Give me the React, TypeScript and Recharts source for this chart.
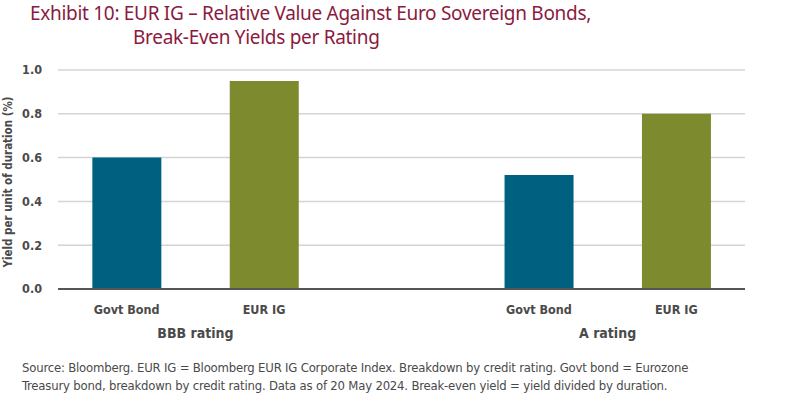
import React from "react";
import { Bar, BarChart, CartesianGrid, Cell, XAxis, YAxis } from "recharts";

const categories = ["Govt Bond", "EUR IG", "", "Govt Bond", "EUR IG"];
const values: (number | null)[] = [0.6, 0.95, null, 0.52, 0.8];
const groups = ["BBB rating", "", "", "A rating", ""];
const yTicks = [0, 0.2, 0.4, 0.6, 0.8, 1.0];

const BLUE = "#00607f";
const OLIVE = "#7e8a2e";
const barColors = [BLUE, OLIVE, BLUE, BLUE, OLIVE];

const data = categories.map((name, i) => ({
  key: `c${i}`,
  name,
  value: values[i],
  group: groups[i],
}));

const condensed = "'Liberation Sans Narrow', 'DejaVu Sans Condensed', Roboto, sans-serif";

function CategoryTick(props: any) {
  const { x, y, payload, index, width } = props;
  const item = data[index];
  const slot = (width || 687) / categories.length;
  return (
    <g>
      <text
        x={x}
        y={y + 17}
        textAnchor="middle"
        fontFamily={condensed}
        fontWeight="bold"
        fontSize={12.5}
        fill="#4a4a4a"
      >
        {item ? item.name : payload.value}
      </text>
      {item && item.group ? (
        <text
          x={x + slot / 2}
          y={y + 41}
          textAnchor="middle"
          fontFamily={condensed}
          fontWeight="bold"
          fontSize={14}
          fill="#4a4a4a"
        >
          {item.group}
        </text>
      ) : null}
    </g>
  );
}

export default function App() {
  return (
    <div
      style={{
        position: "absolute",
        left: 0,
        top: 0,
        width: 800,
        height: 398,
        background: "#fff",
        overflow: "hidden",
      }}
    >
      <div
        style={{
          position: "absolute",
          left: 30,
          top: 1,
          color: "#8a1a3e",
          fontFamily: "'Noto Sans', sans-serif",
          fontSize: 19,
          lineHeight: "24px",
          letterSpacing: -0.3,
        }}
      >
        <div>Exhibit 10: EUR IG – Relative Value Against Euro Sovereign Bonds,</div>
        <div style={{ paddingLeft: 103 }}>Break-Even Yields per Rating</div>
      </div>

      <div style={{ position: "absolute", left: 0, top: 0 }}>
        <BarChart
          width={800}
          height={345}
          data={data}
          margin={{ top: 70, right: 55, bottom: 6, left: 0 }}
          barCategoryGap="25%"
        >
          <CartesianGrid vertical={false} stroke="#d4d4d4" strokeWidth={1.5} />
          <XAxis
            dataKey="key"
            height={50}
            tickLine={false}
            axisLine={{ stroke: "#555", strokeWidth: 2 }}
            tick={<CategoryTick />}
            interval={0}
          />
          <YAxis
            width={58}
            domain={[0, 1]}
            ticks={yTicks}
            tickFormatter={(v: number) => v.toFixed(1)}
            axisLine={false}
            tickLine={false}
            tick={{
              fontFamily: condensed,
              fontWeight: "bold",
              fontSize: 12.5,
              fill: "#4a4a4a",
            }}
            tickMargin={10}
            label={{
              value: "Yield per unit of duration (%)",
              angle: -90,
              position: "insideLeft",
              offset: 8,
              dy: 88,
              style: {
                fontFamily: condensed,
                fontWeight: "bold",
                fontSize: 11.5,
                fill: "#4a4a4a",
              },
            }}
          />
          <Bar dataKey="value" isAnimationActive={false}>
            {data.map((d, i) => (
              <Cell key={d.key} fill={barColors[i]} />
            ))}
          </Bar>
        </BarChart>
      </div>

      <div
        style={{
          position: "absolute",
          left: 22,
          top: 359,
          color: "#4a4a4a",
          fontFamily: condensed,
          fontSize: 13,
          lineHeight: "18px",
          letterSpacing: -0.2,
        }}
      >
        <div>
          Source: Bloomberg. EUR IG = Bloomberg EUR IG Corporate Index. Breakdown by credit rating. Govt bond = Eurozone
        </div>
        <div>
          Treasury bond, breakdown by credit rating. Data as of 20 May 2024. Break-even yield = yield divided by duration.
        </div>
      </div>
    </div>
  );
}
